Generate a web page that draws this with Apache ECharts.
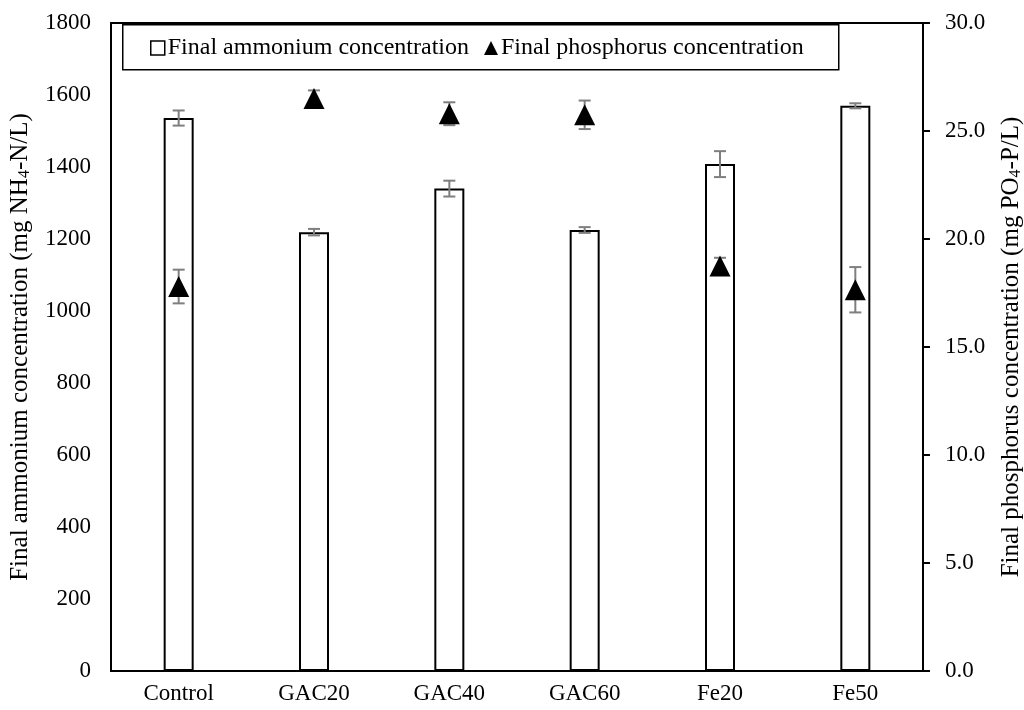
<!DOCTYPE html>
<html>
<head>
<meta charset="utf-8">
<script src="https://cdn.jsdelivr.net/npm/echarts@6/dist/echarts.min.js"></script>
<style>
html,body{margin:0;padding:0;background:#fff;}
#chart{width:1024px;height:710px;}
</style>
</head>
<body>
<div id="chart"></div>
<script>
var categories = ['Control', 'GAC20', 'GAC40', 'GAC60', 'Fe20', 'Fe50'];
var ammonium = [1536, 1219, 1340, 1225, 1408, 1570];
var ammoniumErr = [21, 9, 22, 8, 36, 7];
var phosphorus = [17.8, 26.5, 25.8, 25.75, 18.75, 17.65];
var phosphorusErr = [0.78, 0.38, 0.53, 0.66, 0.38, 1.05];
var leftTicks = {min: 0, max: 1800, interval: 200};
var rightTicks = {min: 0, max: 30, interval: 5};

var FONT = 'Liberation Serif';
var FS = 23;

function errData(vals, errs) {
  return vals.map(function (v, i) { return [i, v, errs[i]]; });
}
function errRender(params, api) {
  var x = api.value(0), v = api.value(1), e = api.value(2);
  var top = api.coord([x, v + e]);
  var bot = api.coord([x, v - e]);
  var hw = 6;
  var style = {stroke: '#7f7f7f', lineWidth: 2, fill: null};
  return {
    type: 'group',
    children: [
      {type: 'line', shape: {x1: top[0], y1: top[1], x2: bot[0], y2: bot[1]}, style: style},
      {type: 'line', shape: {x1: top[0] - hw, y1: top[1], x2: top[0] + hw, y2: top[1]}, style: style},
      {type: 'line', shape: {x1: bot[0] - hw, y1: bot[1], x2: bot[0] + hw, y2: bot[1]}, style: style}
    ]
  };
}

var chart = echarts.init(document.getElementById('chart'), null, {renderer: 'canvas'});
var richName = {
  n: {fontFamily: FONT, fontSize: 25, color: '#000'},
  s: {fontFamily: FONT, fontSize: 16, color: '#000', verticalAlign: 'bottom', lineHeight: 14}
};
chart.setOption({
  animation: false,
  backgroundColor: '#fff',
  textStyle: {fontFamily: FONT},
  grid: {left: 111, right: 101, top: 23, bottom: 39, show: true, borderColor: '#000', borderWidth: 2,
    backgroundColor: 'transparent', containLabel: false, outerBoundsMode: 'none'},
  graphic: [{
    type: 'rect', left: 122, top: 24, z: 1,
    shape: {width: 716, height: 45},
    style: {fill: '#fff', stroke: '#000', lineWidth: 1.5}
  }],
  legend: {
    left: 145, top: 31, itemGap: 15, itemWidth: 14, itemHeight: 14, z: 10,
    textStyle: {fontFamily: FONT, fontSize: 24, color: '#000', padding: [0, 0, 0, -2]},
    data: [
      {name: 'Final ammonium concentration', icon: 'rect', itemStyle: {color: '#fff', borderColor: '#000', borderWidth: 1.5}},
      {name: 'Final phosphorus concentration', icon: 'triangle', itemStyle: {color: '#000'}}
    ]
  },
  xAxis: {
    type: 'category', data: categories, boundaryGap: true,
    axisLine: {show: true, lineStyle: {color: '#000', width: 2}},
    axisTick: {show: false},
    axisLabel: {fontFamily: FONT, fontSize: FS, color: '#000', margin: 11},
    splitLine: {show: false}
  },
  yAxis: [{
    type: 'value', min: leftTicks.min, max: leftTicks.max, interval: leftTicks.interval,
    position: 'left',
    name: '{n|Final ammonium concentration (mg NH}{s|4}{n|-N/L)}',
    nameLocation: 'middle', nameGap: 78, nameRotate: 90,
    nameTextStyle: {rich: richName},
    axisLine: {show: true, lineStyle: {color: '#000', width: 2}},
    axisTick: {show: false},
    axisLabel: {fontFamily: FONT, fontSize: FS, color: '#000', margin: 20,
      formatter: function (v) { return String(v); }},
    splitLine: {show: false}
  }, {
    type: 'value', min: rightTicks.min, max: rightTicks.max, interval: rightTicks.interval,
    position: 'right',
    name: '{n|Final phosphorus concentration (mg PO}{s|4}{n|-P/L)}',
    nameLocation: 'middle', nameGap: 76, nameRotate: 90,
    nameTextStyle: {rich: richName},
    axisLine: {show: true, lineStyle: {color: '#000', width: 2}},
    axisTick: {show: true, inside: false, length: 7, lineStyle: {color: '#000', width: 2}},
    axisLabel: {fontFamily: FONT, fontSize: FS, color: '#000', margin: 22,
      formatter: function (v) { return v.toFixed(1); }},
    splitLine: {show: false}
  }],
  series: [{
    name: 'Final ammonium concentration',
    type: 'bar', yAxisIndex: 0, data: ammonium, barWidth: 30, z: 2,
    itemStyle: {color: '#fff', borderColor: '#000', borderWidth: 2}
  }, {
    name: 'ammoniumErr', type: 'custom', yAxisIndex: 0, z: 3,
    data: errData(ammonium, ammoniumErr), renderItem: errRender,
    encode: {x: 0, y: 1}
  }, {
    name: 'phosphorusErr', type: 'custom', yAxisIndex: 1, z: 4,
    data: errData(phosphorus, phosphorusErr), renderItem: errRender,
    encode: {x: 0, y: 1}
  }, {
    name: 'Final phosphorus concentration',
    type: 'scatter', yAxisIndex: 1, data: phosphorus, z: 5,
    symbol: 'triangle', symbolSize: 21,
    itemStyle: {color: '#000', opacity: 1}
  }]
});
</script>
</body>
</html>
